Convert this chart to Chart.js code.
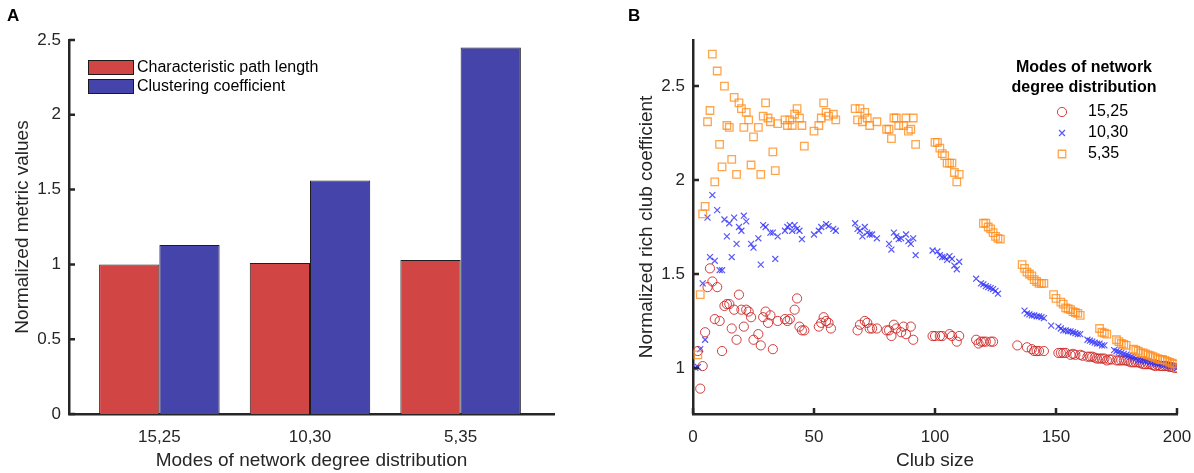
<!DOCTYPE html>
<html>
<head>
<meta charset="utf-8">
<script src="https://cdn.jsdelivr.net/npm/chart.js@4.4.1/dist/chart.umd.min.js"></script>
<style>
  html, body { margin: 0; padding: 0; background: #ffffff; }
  #wrap { position: relative; width: 1194px; height: 473px; overflow: hidden; }
  canvas { position: absolute; top: 0; }
  #barCanvas { left: 0; }
  #clubCanvas { left: 600px; }
</style>
</head>
<body>
<div id="wrap">
  <canvas id="barCanvas" width="600" height="473"></canvas>
  <canvas id="clubCanvas" width="594" height="473"></canvas>
</div>
<script>
// ---- Panel A: normalized small-world metrics per degree-distribution mode ----
const categories = ['15,25', '10,30', '5,35'];
const categoryPositions = [1, 2, 3];
const pathLength = [1.00, 1.01, 1.03];
const clustering = [1.13, 1.56, 2.45];
const metricTicks = [0, 0.5, 1, 1.5, 2, 2.5];

// ---- Panel B: normalized rich club coefficient vs club size ----
const seriesNames = ['15,25', '10,30', '5,35'];
const clubTicksX = [0, 50, 100, 150, 200];
const clubTicksY = [1, 1.5, 2, 2.5];

const size15_25 = [2,3,4,5,6,7,8,9,10,11,12,13,14,15,16,17,18,19,20,21,22,23,24,25,27,28,29,30,31,32,33,35,38,39,40,42,43,44,45,46,
  52,53,54,55,56,57,68,69,71,72,73,74,76,80,81,82,83,84,86,87,88,90,91,99,100,102,103,106,107,109,110,
  117,118,119,120,121,123,124,134,138,140,141,142,143,145,151,152,153,154,156,157,158,160,161,163,164,165,166,167,168,169,170,
  171,172,173,175,176,177,178,179,180,181,182,183,184,185,186,187,188,189,190,191,192,193,194,195,196,197,198,199,200];
const rich15_25 = [1.09,0.89,1.01,1.19,1.43,1.53,1.46,1.26,1.43,1.25,1.09,1.33,1.34,1.34,1.21,1.31,1.15,1.39,1.31,1.22,1.31,1.30,1.27,1.15,1.18,1.12,1.27,1.30,1.24,1.28,1.10,1.25,1.26,1.25,1.26,1.31,1.37,1.22,1.20,1.20,
  1.22,1.24,1.27,1.25,1.24,1.21,1.20,1.23,1.25,1.24,1.21,1.21,1.21,1.20,1.20,1.17,1.23,1.21,1.19,1.22,1.18,1.22,1.15,1.17,1.17,1.17,1.17,1.18,1.17,1.14,1.17,
  1.15,1.13,1.14,1.14,1.14,1.14,1.14,1.12,1.11,1.10,1.09,1.09,1.09,1.09,1.08,1.08,1.08,1.08,1.07,1.075,1.07,1.07,1.065,1.06,1.06,1.06,1.055,1.05,1.05,1.05,1.05,
  1.04,1.045,1.045,1.04,1.04,1.04,1.04,1.04,1.035,1.03,1.03,1.03,1.03,1.025,1.02,1.02,1.02,1.02,1.015,1.01,1.015,1.01,1.01,1.01,1.01,1.005,1.005,1.00,1.00];

const size10_30 = [1,2,3,4,5,6,7,8,9,10,11,12,13,14,15,16,17,18,19,20,21,22,24,25,27,28,29,30,32,33,34,35,38,39,40,41,42,43,44,45,
  50,52,53,55,56,58,59,67,68,69,70,71,72,73,74,76,81,82,83,84,85,86,88,89,90,91,92,
  99,101,102,103,104,105,106,107,108,109,110,117,119,120,121,122,123,124,125,126,137,138,139,140,141,142,143,144,145,148,
  151,152,153,154,155,156,157,158,159,160,163,164,165,166,167,168,169,170,174,175,176,177,178,179,180,181,182,183,184,185,
  186,187,188,189,190,191,192,193,194,195,196,197,198,199,200];
const rich10_30 = [1.00,1.005,1.10,1.45,1.15,1.80,1.59,1.92,1.57,1.84,1.52,1.52,1.79,1.70,1.77,1.59,1.80,1.66,1.75,1.73,1.81,1.78,1.66,1.64,1.69,1.55,1.76,1.75,1.72,1.72,1.58,1.70,1.73,1.75,1.76,1.73,1.76,1.74,1.73,1.685,
  1.71,1.73,1.75,1.765,1.755,1.74,1.73,1.77,1.74,1.73,1.70,1.75,1.72,1.71,1.71,1.69,1.66,1.63,1.72,1.70,1.685,1.69,1.71,1.675,1.66,1.69,1.60,
  1.625,1.62,1.60,1.59,1.59,1.575,1.595,1.58,1.545,1.525,1.565,1.475,1.45,1.445,1.435,1.43,1.425,1.42,1.41,1.395,1.305,1.29,1.285,1.28,1.28,1.275,1.275,1.27,1.265,1.225,
  1.22,1.21,1.20,1.20,1.195,1.195,1.19,1.185,1.18,1.18,1.15,1.145,1.14,1.135,1.13,1.13,1.12,1.12,1.095,1.09,1.085,1.08,1.075,1.07,1.065,1.06,1.055,1.05,1.04,1.04,
  1.04,1.035,1.035,1.03,1.03,1.025,1.02,1.02,1.02,1.015,1.015,1.01,1.01,1.005,1.00];

const size5_35 = [2,3,4,5,6,7,8,9,10,11,12,13,14,15,16,17,18,19,20,21,22,23,24,25,27,28,29,30,31,32,33,34,35,38,39,40,41,42,43,44,45,46,
  50,52,53,54,55,56,58,59,67,68,69,70,71,72,73,76,80,81,82,83,84,85,87,88,89,90,91,92,
  100,101,102,103,104,105,106,107,108,109,110,120,121,122,123,124,125,126,127,136,137,138,139,140,141,142,143,144,145,
  149,150,152,153,154,155,156,157,158,159,160,168,169,170,171,175,176,177,178,179,182,183,184,185,186,187,188,189,190,
  191,192,193,194,195,196,197,198,199,200];
const rich5_35 = [1.07,1.39,1.82,1.86,2.31,2.37,2.67,1.99,2.58,2.19,2.07,2.50,2.29,2.28,2.11,2.44,2.03,2.41,2.38,2.28,2.36,2.32,2.08,2.23,2.28,2.03,2.34,2.41,2.33,2.31,2.15,2.05,2.30,2.32,2.29,2.32,2.29,2.35,2.38,2.33,2.29,2.18,
  2.26,2.29,2.33,2.41,2.36,2.34,2.35,2.32,2.38,2.32,2.38,2.31,2.36,2.33,2.29,2.31,2.27,2.27,2.22,2.33,2.33,2.29,2.29,2.33,2.26,2.27,2.33,2.19,
  2.20,2.20,2.17,2.14,2.13,2.09,2.09,2.09,2.04,1.99,2.03,1.77,1.77,1.75,1.74,1.72,1.70,1.69,1.685,1.55,1.53,1.51,1.50,1.49,1.47,1.46,1.45,1.45,1.45,
  1.39,1.37,1.35,1.34,1.32,1.315,1.31,1.30,1.295,1.29,1.28,1.21,1.19,1.185,1.18,1.15,1.14,1.13,1.125,1.12,1.10,1.095,1.09,1.08,1.08,1.075,1.07,1.065,1.06,
  1.055,1.05,1.045,1.045,1.04,1.035,1.03,1.025,1.02,1.00];

const FONT = '"Liberation Sans", Arial, Helvetica, sans-serif';
const INK = '#262626';
const BAR_RED = '#d24545';
const BAR_BLUE = '#4444aa';
const RED = 'rgba(205,30,30,0.85)';
const BLUE = 'rgba(45,45,250,0.8)';
const ORANGE = 'rgba(255,140,25,0.78)';

function pairs(xs, ys) { return xs.map((x, i) => ({ x: x, y: ys[i] })); }

// Horizontal axes keep their full width: no extra room reserved for edge labels
function fixedBottomAxis(s) {
  s.height = 59;
  s.paddingLeft = 0;
  s.paddingRight = 0;
}

// Inward-facing tick marks, drawn over the axis lines
function drawInwardTicks(chart, xVals, yVals) {
  const ctx = chart.ctx, area = chart.chartArea;
  const xs = chart.scales.x, ys = chart.scales.y;
  ctx.save();
  ctx.strokeStyle = INK;
  ctx.lineWidth = 2.5;
  ctx.beginPath();
  (yVals || []).forEach(v => {
    const p = ys.getPixelForValue(v);
    ctx.moveTo(area.left, p); ctx.lineTo(area.left + 6, p);
  });
  (xVals || []).forEach(v => {
    const p = xs.getPixelForValue(v);
    ctx.moveTo(p, area.bottom); ctx.lineTo(p, area.bottom - 6);
  });
  ctx.stroke();
  ctx.restore();
}

function drawPanelLetter(ctx, letter, x, y) {
  ctx.save();
  ctx.fillStyle = '#000';
  ctx.font = 'bold 17px ' + FONT;
  ctx.textBaseline = 'alphabetic';
  ctx.fillText(letter, x, y);
  ctx.restore();
}

const barDecor = {
  id: 'barDecor',
  afterDraw(chart) {
    const ctx = chart.ctx;
    drawInwardTicks(chart, null, metricTicks);
    drawPanelLetter(ctx, 'A', 7, 21);
    // legend
    const items = chart.data.datasets;
    ctx.save();
    ctx.font = '16px ' + FONT;
    ctx.textBaseline = 'middle';
    items.forEach((ds, i) => {
      const top = 60 + i * 19;
      ctx.fillStyle = ds.backgroundColor;
      ctx.fillRect(88, top, 45, 14);
      ctx.strokeStyle = '#1a1a1a';
      ctx.lineWidth = 1;
      ctx.strokeRect(88.5, top + 0.5, 45, 14);
      ctx.fillStyle = '#000';
      ctx.fillText(ds.label, 137, top + 7.5);
    });
    ctx.restore();
  }
};

const clubDecor = {
  id: 'clubDecor',
  afterDraw(chart) {
    const ctx = chart.ctx;
    drawInwardTicks(chart, clubTicksX, clubTicksY);
    drawPanelLetter(ctx, 'B', 28, 21);
    ctx.save();
    ctx.fillStyle = '#000';
    ctx.font = 'bold 16px ' + FONT;
    ctx.textAlign = 'center';
    ctx.textBaseline = 'middle';
    ctx.fillText('Modes of network', 484, 68);
    ctx.fillText('degree distribution', 484, 88);
    ctx.font = '16px ' + FONT;
    ctx.textAlign = 'left';
    const mx = 462;
    [112, 133, 154].forEach((y, i) => {
      const ds = chart.data.datasets[i];
      ctx.strokeStyle = ds.borderColor;
      ctx.lineWidth = ds.borderWidth;
      ctx.beginPath();
      if (ds.pointStyle === 'circle') {
        ctx.arc(mx, y, ds.pointRadius, 0, Math.PI * 2);
      } else if (ds.pointStyle === 'crossRot') {
        const d = ds.pointRadius * Math.SQRT1_2;
        ctx.moveTo(mx - d, y - d); ctx.lineTo(mx + d, y + d);
        ctx.moveTo(mx + d, y - d); ctx.lineTo(mx - d, y + d);
      } else {
        const h = ds.pointRadius * Math.SQRT1_2;
        ctx.rect(mx - h, y - h, 2 * h, 2 * h);
      }
      ctx.stroke();
      ctx.fillStyle = '#000';
      ctx.fillText(ds.label, 488, y);
    });
    ctx.restore();
  }
};

const tickFont = { family: FONT, size: 17 };
const titleFont = { family: FONT, size: 19 };

// ---- Chart A ----
new Chart(document.getElementById('barCanvas'), {
  type: 'bar',
  data: {
    datasets: [
      { label: 'Characteristic path length', data: pairs(categoryPositions, pathLength),
        backgroundColor: BAR_RED, borderColor: '#1e1e1e', borderWidth: 1 },
      { label: 'Clustering coefficient', data: pairs(categoryPositions, clustering),
        backgroundColor: BAR_BLUE, borderColor: '#1e1e1e', borderWidth: 1 }
    ]
  },
  options: {
    responsive: false, animation: false, events: [],
    devicePixelRatio: 1,
    categoryPercentage: 0.8, barPercentage: 1.0,
    layout: { padding: { left: 0, right: 46, top: 40, bottom: 0 } },
    plugins: { legend: { display: false }, tooltip: { enabled: false } },
    scales: {
      x: {
        type: 'linear', min: 0.4, max: 3.62, offset: false,
        afterBuildTicks: s => { s.ticks = categoryPositions.map(v => ({ value: v })); },
        afterFit: fixedBottomAxis,
        grid: { display: false, drawTicks: false, tickLength: 0 },
        border: { display: true, color: INK, width: 2.5 },
        ticks: { color: INK, font: tickFont, padding: 13, maxRotation: 0,
                 callback: v => categories[categoryPositions.indexOf(v)] },
        title: { display: true, text: 'Modes of network degree distribution',
                 color: INK, font: titleFont, padding: { top: 0, bottom: 1 } }
      },
      y: {
        min: 0, max: 2.5,
        afterBuildTicks: s => { s.ticks = metricTicks.map(v => ({ value: v })); },
        afterFit: s => { s.width = 69; },
        grid: { display: false, drawTicks: false, tickLength: 0 },
        border: { display: true, color: INK, width: 2.5 },
        ticks: { color: INK, font: tickFont, padding: 8, callback: v => String(v) },
        title: { display: true, text: 'Normalized metric values',
                 color: INK, font: titleFont, padding: { top: 11, bottom: 0 } }
      }
    }
  },
  plugins: [barDecor]
});

// ---- Chart B ----
new Chart(document.getElementById('clubCanvas'), {
  type: 'scatter',
  data: {
    datasets: [
      { label: seriesNames[0], data: pairs(size15_25, rich15_25), pointStyle: 'circle',
        pointRadius: 4.6, borderColor: RED, backgroundColor: 'rgba(0,0,0,0)', borderWidth: 1, order: 3 },
      { label: seriesNames[1], data: pairs(size10_30, rich10_30), pointStyle: 'crossRot',
        pointRadius: 4.2, borderColor: BLUE, backgroundColor: BLUE, borderWidth: 1.2, order: 2 },
      { label: seriesNames[2], data: pairs(size5_35, rich5_35), pointStyle: 'rect',
        pointRadius: 5.3, borderColor: ORANGE, backgroundColor: 'rgba(0,0,0,0)', borderWidth: 1.3, order: 1 }
    ]
  },
  options: {
    responsive: false, animation: false, events: [],
    devicePixelRatio: 1,
    layout: { padding: { left: 0, right: 17, top: 40, bottom: 0 } },
    plugins: { legend: { display: false }, tooltip: { enabled: false } },
    scales: {
      x: {
        type: 'linear', min: 0, max: 200,
        afterBuildTicks: s => { s.ticks = clubTicksX.map(v => ({ value: v })); },
        afterFit: fixedBottomAxis,
        grid: { display: false, drawTicks: false, tickLength: 0 },
        border: { display: true, color: INK, width: 2.5 },
        ticks: { color: INK, font: tickFont, padding: 13, maxRotation: 0, callback: v => String(v) },
        title: { display: true, text: 'Club size', color: INK, font: titleFont,
                 padding: { top: 0, bottom: 1 } }
      },
      y: {
        type: 'linear', min: 0.755, max: 2.745,
        afterBuildTicks: s => { s.ticks = clubTicksY.map(v => ({ value: v })); },
        afterFit: s => { s.width = 93; },
        grid: { display: false, drawTicks: false, tickLength: 0 },
        border: { display: true, color: INK, width: 2.5 },
        ticks: { color: INK, font: tickFont, padding: 8, callback: v => String(v) },
        title: { display: true, text: 'Normalized rich club coefficient',
                 color: INK, font: titleFont, padding: { top: 35, bottom: 0 } }
      }
    }
  },
  plugins: [clubDecor]
});
</script>
</body>
</html>
